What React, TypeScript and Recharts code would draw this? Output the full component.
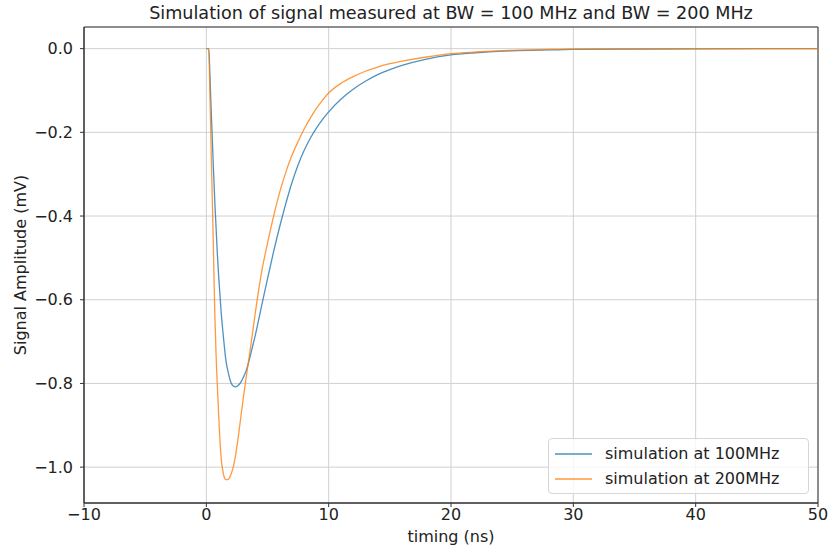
import {
  LineChart,
  Line,
  XAxis,
  YAxis,
  CartesianGrid,
  Legend,
  ReferenceArea,
} from "recharts"

// timing (ns)
const timing = [
  0, 0.2, 0.3, 0.4, 0.5, 0.6, 0.7, 0.8, 0.9, 1.0, 1.2, 1.4, 1.6, 1.8, 2.0, 2.2,
  2.4, 2.6, 2.8, 3.0, 3.25, 3.5, 3.75, 4.0, 4.5, 5.0, 5.5, 6.0, 6.5, 7.0, 7.5,
  8.0, 8.5, 9.0, 9.5, 10, 11, 12, 13, 14, 15, 16, 18, 20, 22, 25, 28, 30, 35,
  40, 50,
]

// signal amplitude (mV), BW = 100 MHz
const sim100 = [
  0, 0, -0.07, -0.15, -0.225, -0.3, -0.37, -0.43, -0.49, -0.54, -0.625, -0.69,
  -0.745, -0.775, -0.797, -0.806, -0.808, -0.805, -0.798, -0.787, -0.77, -0.745,
  -0.715, -0.685, -0.617, -0.55, -0.485, -0.425, -0.37, -0.32, -0.278, -0.243,
  -0.214, -0.19, -0.169, -0.151, -0.121, -0.097, -0.078, -0.062, -0.05, -0.04,
  -0.025, -0.015, -0.01, -0.005, -0.003, -0.002, -0.001, -0.0004, 0,
]

// signal amplitude (mV), BW = 200 MHz
const sim200 = [
  0, 0, -0.12, -0.25, -0.375, -0.51, -0.64, -0.735, -0.805, -0.87, -0.975, -1.017,
  -1.03, -1.029, -1.018, -1.0, -0.97, -0.93, -0.885, -0.84, -0.787, -0.737,
  -0.685, -0.632, -0.537, -0.465, -0.4, -0.343, -0.295, -0.255, -0.222, -0.192,
  -0.166, -0.143, -0.123, -0.106, -0.083, -0.067, -0.054, -0.044, -0.036, -0.03,
  -0.02, -0.012, -0.008, -0.004, -0.002, -0.001, -0.0005, -0.0002, 0,
]

const seriesNames = ["simulation at 100MHz", "simulation at 200MHz"]
const seriesColors = ["#1f77b4", "#ff7f0e"]

const xTicks = [-10, 0, 10, 20, 30, 40, 50]
const yTicks = [-1.0, -0.8, -0.6, -0.4, -0.2, 0.0]
const xDomain: [number, number] = [-10, 50]
const yDomain: [number, number] = [-1.0857, 0.0517]

const data = timing.map((t, i) => ({ t, a: sim100[i], b: sim200[i] }))

const font = "'DejaVu Sans', sans-serif"
const tickStyle = { fontSize: 16, fill: "#222", fontFamily: font }

const fmt = (v: number) => v.toFixed(1).replace("-", "\u2212")
const fmtX = (v: number) => String(v).replace("-", "\u2212")

function LegendBox() {
  return (
    <div
      style={{
        width: 259,
        height: 54,
        border: "1px solid #d6d6d6",
        borderRadius: 4,
        background: "rgba(255,255,255,0.8)",
        fontFamily: font,
        fontSize: 16,
        color: "#222",
        boxSizing: "content-box",
      }}
    >
      {seriesNames.map((name, i) => (
        <div
          key={name}
          style={{ display: "flex", alignItems: "center", height: 25, marginTop: i === 0 ? 2 : 0 }}
        >
          <svg width={50} height={10} style={{ marginLeft: 6 }}>
            <line x1={0} x2={37} y1={5} y2={5} stroke={seriesColors[i]} strokeWidth={1.3} strokeOpacity={0.8} />
          </svg>
          <span style={{ whiteSpace: "nowrap" }}>{name}</span>
        </div>
      ))}
    </div>
  )
}

export default function App() {
  return (
    <div style={{ position: "absolute", left: 0, top: 0, width: 831, height: 548, background: "#fff" }}>
      <div
        style={{
          position: "absolute",
          left: 84,
          width: 734,
          top: 3,
          textAlign: "center",
          fontFamily: font,
          fontSize: 17.6,
          color: "#222",
        }}
      >
        Simulation of signal measured at BW = 100 MHz and BW = 200 MHz
      </div>
      <LineChart
        width={831}
        height={548}
        data={data}
        margin={{ top: 27, right: 13, bottom: 15, left: 0 }}
      >
        <CartesianGrid stroke="#d0d0d0" strokeWidth={1} />
        <XAxis
          type="number"
          dataKey="t"
          domain={xDomain}
          ticks={xTicks}
          allowDataOverflow
          height={30}
          tickSize={4}
          tickMargin={2}
          tick={tickStyle}
          tickFormatter={fmtX}
          stroke="#333"
          label={{
            value: "timing (ns)",
            position: "insideBottom",
            offset: -9,
            style: { fontSize: 16, fill: "#222", fontFamily: font },
          }}
        />
        <YAxis
          type="number"
          domain={yDomain}
          ticks={yTicks}
          allowDataOverflow
          width={84}
          tickSize={4}
          tickMargin={7}
          tick={tickStyle}
          tickFormatter={fmt}
          stroke="#333"
          label={{
            value: "Signal Amplitude (mV)",
            angle: -90,
            position: "insideLeft",
            offset: 20,
            style: { fontSize: 16, fill: "#222", fontFamily: font, textAnchor: "middle" },
          }}
        />
        <ReferenceArea
          x1={xDomain[0]}
          x2={xDomain[1]}
          y1={yDomain[0]}
          y2={yDomain[1]}
          fill="none"
          stroke="#333"
          strokeWidth={1}
          ifOverflow="extendDomain"
        />
        <Line
          type="monotone"
          dataKey="a"
          name={seriesNames[0]}
          stroke={seriesColors[0]}
          strokeWidth={1.3}
          strokeOpacity={0.8}
          dot={false}
          isAnimationActive={false}
        />
        <Line
          type="monotone"
          dataKey="b"
          name={seriesNames[1]}
          stroke={seriesColors[1]}
          strokeWidth={1.3}
          strokeOpacity={0.8}
          dot={false}
          isAnimationActive={false}
        />
        <Legend
          layout="vertical"
          align="center"
          verticalAlign="middle"
          content={() => <LegendBox />}
          wrapperStyle={{ left: 548, top: 438, width: 262 }}
        />
      </LineChart>
    </div>
  )
}
